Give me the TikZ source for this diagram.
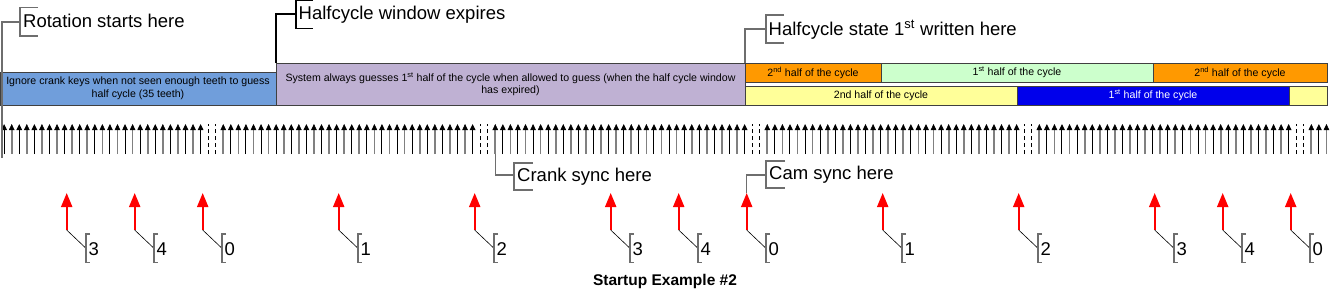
\documentclass[tikz,border=0pt]{standalone}
\usepackage{fontspec}
\setmainfont{Liberation Sans}
\usetikzlibrary{arrows.meta,calc}
\definecolor{boxblue}{RGB}{112,158,219}
\definecolor{boxlav}{RGB}{191,177,211}
\definecolor{boxorange}{RGB}{255,153,0}
\definecolor{boxgreen}{RGB}{204,255,204}
\definecolor{boxyellow}{RGB}{255,255,153}
\definecolor{boxdark}{RGB}{0,0,235}
\definecolor{leadgray}{RGB}{110,110,110}
\begin{document}
\begin{tikzpicture}[x=1pt,y=-1pt,
  calltext/.style={font=\fontsize{18.5}{22}\selectfont, inner sep=0pt, anchor=base west},
  numtext/.style={font=\fontsize{18.5}{22}\selectfont, inner sep=0pt, anchor=base west},
  bar/.style={draw=black!75, line width=0.8pt, inner sep=0pt, outer sep=0pt, anchor=north west,
              font=\fontsize{10.6}{13}\selectfont, align=center},
  leader/.style={draw=leadgray, line width=1.3pt},
  leaderblack/.style={draw=black, line width=1.1pt},
  toothblack/.style={draw=black, line width=1pt, -{Triangle[width=5.5pt,length=6pt,fill=black,color=black]}},
  toothgray/.style={draw=black!50, line width=1.7pt, -{Triangle[width=5.5pt,length=6pt,line width=0.5pt,fill=black,color=black]}},
  gapline/.style={draw=black, line width=0.7pt, dash pattern=on 4pt off 3pt},
  redarrow/.style={draw=red, line width=2pt, -{Triangle[width=11pt,length=14pt]}},
  diag/.style={draw=black, line width=0.6pt},
  numbracket/.style={draw=leadgray, line width=1.1pt}
]
\useasboundingbox (0,0) rectangle (1331,292);

% ---- bars ----
\node[bar, fill=boxblue, minimum width=276pt, minimum height=33pt] (ign) at (0,72)
  {Ignore crank keys when not seen enough teeth to guess\\half cycle (35 teeth)};
\node[bar, fill=boxlav, minimum width=469pt, minimum height=42pt, font=\fontsize{10.6}{12}\selectfont] (sys) at (276,63)
  {System always guesses 1\textsuperscript{st} half of the cycle when allowed to guess (when the half cycle window\\has expired)};
\node[bar, fill=boxorange, minimum width=136pt, minimum height=19pt] (o1) at (745,63)
  {2\textsuperscript{nd} half of the cycle};
\node[bar, fill=boxgreen, minimum width=272pt, minimum height=19pt] (g1) at (881,63)
  {1\textsuperscript{st} half of the cycle};
\node[bar, fill=boxorange, minimum width=174pt, minimum height=19pt] (o2) at (1153,63)
  {2\textsuperscript{nd} half of the cycle};
\node[bar, fill=boxyellow, minimum width=272pt, minimum height=19pt] (y1) at (745,86)
  {2nd half of the cycle};
\node[bar, fill=boxdark, text=white, minimum width=272pt, minimum height=19pt] (b1) at (1017,86)
  {1\textsuperscript{st} half of the cycle};
\node[bar, fill=boxyellow, minimum width=38pt, minimum height=19pt] (y2) at (1289,86) {};

% ---- teeth ----
\foreach \k in {-26,...,149}{
  \pgfmathsetmacro\tx{200.6+7.556*\k}
  \pgfmathtruncatemacro\m{mod(\k+71,36)}
  \pgfmathtruncatemacro\c{mod(\k+26,2)}
  \ifnum\m<2
    \draw[gapline] (\tx,154) -- (\tx,124);
  \else
    \ifnum\c=0
      \draw[toothblack] (\tx,154) -- (\tx,124);
    \else
      \draw[toothgray] (\tx,154) -- (\tx,124);
    \fi
  \fi
}

% ---- top callouts ----
\node[calltext] (rot) at (23,27.3) {Rotation starts here};
\coordinate (rotfoot) at (2,158);
\draw[leader] (rotfoot) -- (2,22) -- (20,22);
\draw[leader] (38,7.3) -- (20,7.3) -- (20,36) -- (38,36);

\node[calltext] (hwe) at (298.5,19.5) {Halfcycle window expires};
\draw[leaderblack] (sys.north west) -- (276,14) -- (296,14);
\draw[leaderblack] (313,0.6) -- (296,0.6) -- (296,28.3) -- (313,28.3);

\node[calltext] (hsw) at (768.5,35) {Halfcycle state 1\textsuperscript{st} written here};
\draw[leader] (o1.north west) -- (745,29) -- (766,29);
\draw[leader] (784,15) -- (766,15) -- (766,43) -- (784,43);

% ---- red arrows with numbers ----
\foreach \j/\lab in {0/3,1/4,2/0,4/1,6/2,8/3,9/4,10/0,12/1,14/2,16/3,17/4,18/0}{
  \pgfmathsetmacro\ax{66.7+68*\j}
  \coordinate (rb\j) at (\ax,230);
  \coordinate (rt\j) at (\ax,193);
  \draw[redarrow] (rb\j) -- (rt\j);
  \node[numtext] (lab\j) at (\ax+21.8,255) {\lab};
  \draw[diag] (rb\j) -- (\ax+19.3,248.3);
  \draw[numbracket] (\ax+23.5,234) -- (\ax+19.3,234) -- (\ax+19.3,262.7) -- (\ax+23.5,262.7);
}

% ---- bottom callouts ----
\node[calltext] (crs) at (517,181.5) {Crank sync here};
\coordinate (crfoot) at (495.3,154);
\draw[leader] (crfoot) -- (495.3,175) -- (514,175);
\draw[leader] (533,163) -- (514,163) -- (514,190) -- (533,190);

\node[calltext] (cms) at (769,179) {Cam sync here};
\draw[leader] (rt10) -- (746.7,175) -- (766,175);
\draw[leader] (785,161) -- (766,161) -- (766,188) -- (785,188);

% ---- title ----
\node[font=\bfseries\fontsize{15.5}{18}\selectfont, anchor=base, inner sep=0pt] (title) at (665,285)
  {Startup Example \#2};
\end{tikzpicture}
\end{document}
